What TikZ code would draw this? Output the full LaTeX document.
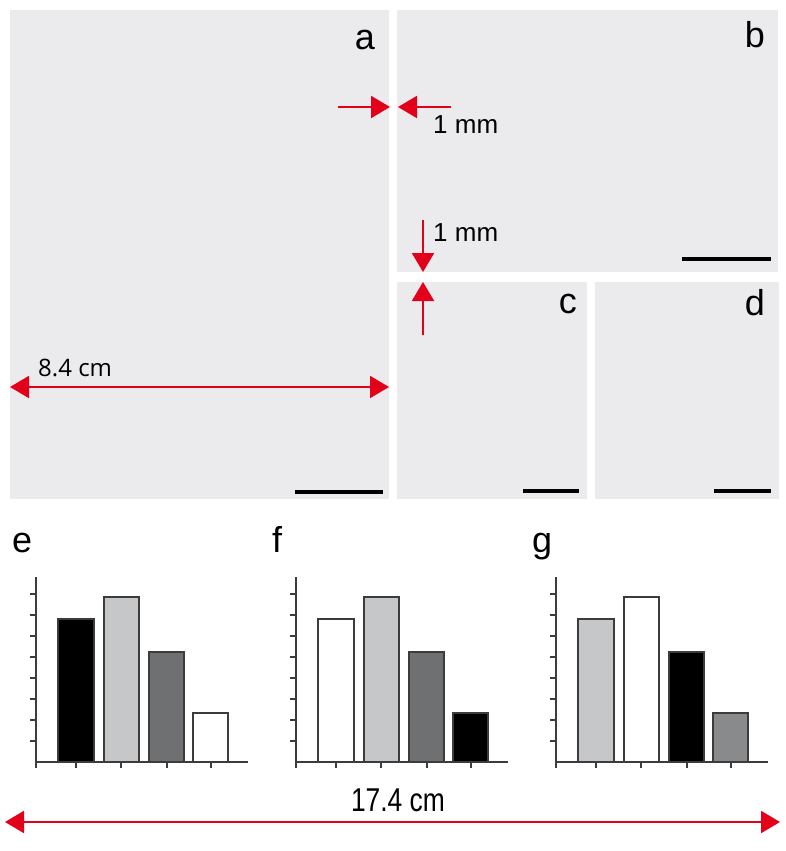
\documentclass[tikz,border=0pt]{standalone}
\usepackage{fontspec}
\setmainfont{Liberation Sans}
\newfontfamily\dimfont{Open Sans}
\usepackage{graphicx}
\usetikzlibrary{arrows.meta,positioning}

\definecolor{panelgray}{RGB}{235,235,238}
\definecolor{markred}{RGB}{226,0,26}
\definecolor{lgray}{RGB}{198,199,201}
\definecolor{mgray}{RGB}{137,138,140}
\definecolor{dgray}{RGB}{111,112,113}
\definecolor{axisgray}{RGB}{60,60,60}

\begin{document}
\begin{tikzpicture}[x=1pt,y=-1pt,
  panel/.style={fill=panelgray,inner sep=0pt,anchor=north west},
  plabel/.style={inner sep=0pt,font=\fontsize{36}{36}\selectfont},
  dimtext/.style={inner sep=0pt,anchor=west,font=\fontsize{26}{26}\selectfont},
  scalebar/.style={line width=4pt},
  dimarrow/.style={color=markred,line width=2pt,-{Triangle[length=19pt,width=22pt]}},
  dimboth/.style={color=markred,line width=2pt,{Triangle[length=19pt,width=22pt]}-{Triangle[length=19pt,width=22pt]}},
  bar/.style={draw=axisgray,line width=1.2pt},
  axis/.style={draw=axisgray,line width=1.2pt}]
  \useasboundingbox (0,0) rectangle (786,851);

  % image panels
  \node[panel,minimum width=379pt,minimum height=489pt] (pa) at (10,10) {};
  \node[panel,minimum width=381pt,minimum height=262pt] (pb) at (397,10) {};
  \node[panel,minimum width=190pt,minimum height=217pt] (pc) at (397,282) {};
  \node[panel,minimum width=184pt,minimum height=217pt] (pd) at (595,282) {};

  \node[plabel,anchor=base east] (la) at (375,50) {a};
  \node[plabel,anchor=base east] (lb) at (765,48) {b};
  \node[plabel,anchor=base east] (lc) at (577,313) {c};
  \node[plabel,anchor=base east] (ld) at (765,315) {d};

  % scale bars
  \draw[scalebar] (295,492) -- (383,492);
  \draw[scalebar] (682,259) -- (771,259);
  \draw[scalebar] (523,491) -- (579,491);
  \draw[scalebar] (714,491) -- (771,491);

  % gap marks
  \coordinate (gl) at (338,107);
  \coordinate (gla) at (390,107);
  \coordinate (gr) at (451,107);
  \coordinate (gra) at (398,107);
  \coordinate (gt) at (423,220);
  \coordinate (gta) at (423,272);
  \coordinate (gb) at (423,335);
  \coordinate (gba) at (423,282);
  \path
    (gl) edge[dimarrow] (gla)
    (gr) edge[dimarrow] (gra)
    (gt) edge[dimarrow] (gta)
    (gb) edge[dimarrow] (gba);
  \node[dimtext] (mmh) at (433,125) {1 mm};
  \node[dimtext] (mmv) at (433,233) {1 mm};

  % widths
  \coordinate (wal) at (10,387);
  \coordinate (war) at (389,387);
  \coordinate (wtl) at (5,822);
  \coordinate (wtr) at (780,822);
  \path (wal) edge[dimboth] (war) (wtl) edge[dimboth] (wtr);
  \node[inner sep=0pt,anchor=west,font=\dimfont\fontsize{24}{24}\selectfont] (wa) at (38,368) {8.4 cm};
  \node[inner sep=0pt,font=\fontsize{33}{33}\selectfont] (wt) at (398,800) {\scalebox{0.8}[1]{17.4 cm}};

  % bar charts
  \foreach \ox/\ca/\cb/\cc/\cd/\lab in {0/black/lgray/dgray/white/e,260/white/lgray/dgray/black/f,520/lgray/white/black/mgray/g}{
    \begin{scope}[xshift=\ox pt]
      \node[plabel,anchor=base west] (l\lab) at (12,552) {\lab};
      \draw[axis] (36,577) -- (36,768);
      \draw[axis] (36,762) -- (248,762);
      \foreach \k in {1,...,8}
        \draw[axis] (30,{762-21*\k}) -- (36,{762-21*\k});
      \foreach \t in {76,121,167,211}
        \draw[axis] (\t,762) -- (\t,768);
      \draw[bar,fill=\ca] (58,762) rectangle (94,619);
      \draw[bar,fill=\cb] (104,762) rectangle (139,597);
      \draw[bar,fill=\cc] (149,762) rectangle (184,652);
      \draw[bar,fill=\cd] (193,762) rectangle (228,713);
    \end{scope}
  }
\end{tikzpicture}
\end{document}
